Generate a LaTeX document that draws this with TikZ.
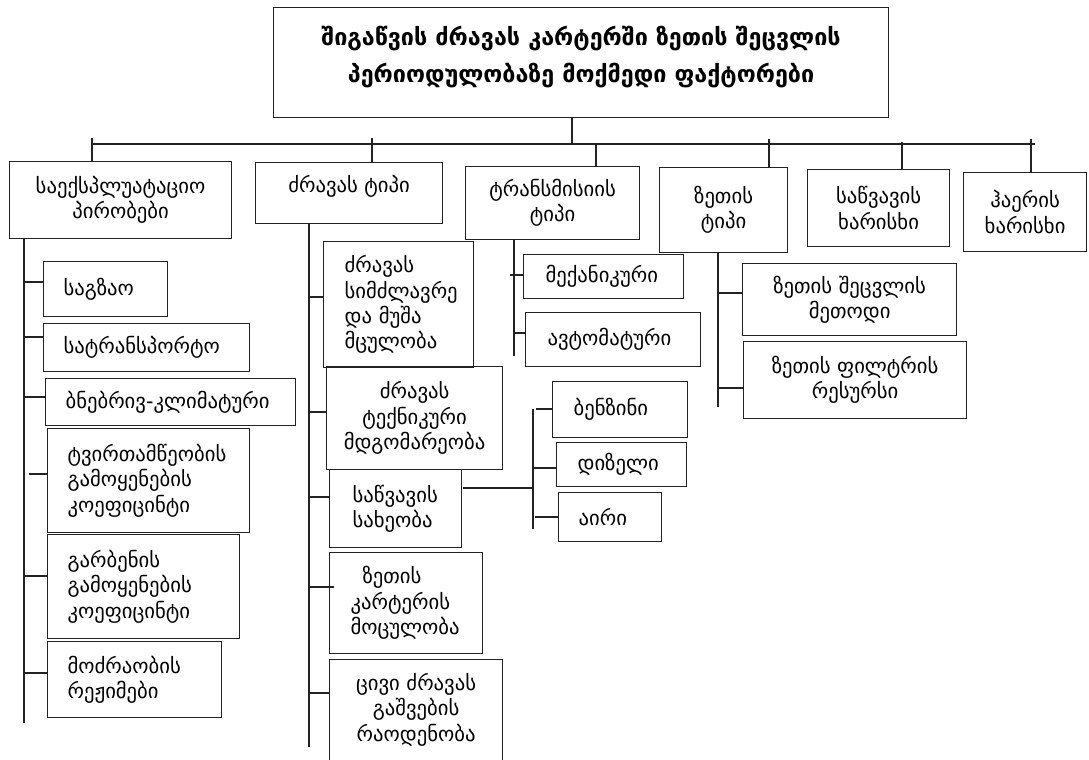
\documentclass[tikz,border=0pt]{standalone}
\usepackage{fontspec}
\setmainfont{DejaVu Sans}
\definecolor{lc}{RGB}{35,35,35}
\newcommand\gbody{\fontsize{15.5}{19}\selectfont}
\newcommand\gtitle{\bfseries\fontsize{17.5}{27.75}\selectfont}
\tikzset{
  box/.style={draw=lc, line width=0.9pt, inner xsep=0pt, inner ysep=0pt, anchor=north west, font=\gbody, text=black},
  cb/.code 2 args={\pgfmathsetmacro\mybw{#1*0.75}\pgfmathsetmacro\mybh{#2*0.75}%
    \edef\mytmp{\noexpand\pgfkeysalso{minimum width=\mybw pt,minimum height=\mybh pt,align=center}}\mytmp},
  lb/.code n args={3}{\pgfmathsetmacro\mybw{#1*0.75}\pgfmathsetmacro\mybh{#2*0.75}%
    \pgfmathsetmacro\mybt{(#1-2*#3)*0.75}\pgfmathsetmacro\mybp{#3*0.75}%
    \edef\mytmp{\noexpand\pgfkeysalso{minimum width=\mybw pt,minimum height=\mybh pt,text width=\mybt pt,inner xsep=\mybp pt,align=left}}\mytmp},
  txt/.style={inner sep=0pt, align=center, text=black},
  conn/.style={draw=lc, line width=0.9pt}
}
\begin{document}
\begin{tikzpicture}[x=0.75pt,y=-0.75pt]
\fill[white] (0,0) rectangle (1089,760);
\useasboundingbox (0,0) rectangle (1089,760);

% title
\node[box,cb={615}{110}] (title) at (273,7) {};
\node[txt,font=\gtitle] (titletxt) at ([yshift=4pt]title.center) {შიგაწვის ძრავას კარტერში ზეთის შეცვლის\\პერიოდულობაზე მოქმედი ფაქტორები};

% top level
\node[box,cb={222}{77}] (expl) at (9,161) {საექსპლუატაციო\\პირობები};
\node[box,cb={187}{61}] (eng) at (255,162) {};
\node[txt,font=\gbody] (engtxt) at ([yshift=5pt]eng.center) {ძრავას ტიპი};
\node[box,cb={174}{73}] (trans) at (465,166) {ტრანსმისიის\\ტიპი};
\node[box,cb={128}{85}] (zeta) at (659,167) {ზეთის\\ტიპი};
\node[box,cb={142}{77}] (saqv) at (807,169) {საწვავის\\ხარისხი};
\node[box,cb={123}{79}] (haer) at (963,172) {ჰაერის\\ხარისხი};

% left column
\node[box,lb={124}{55}{20}] (sagzao) at (43,261) {საგზაო};
\node[box,lb={206}{48}{20}] (satrans) at (43,323) {სატრანსპორტო};
\node[box,lb={250}{47}{20}] (bnebr) at (45,378) {ბნებრივ-კლიმატური};
\node[box,lb={202}{104}{20}] (tvirt) at (47,428) {ტვირთამწეობის\\გამოყენების\\კოეფიცინტი};
\node[box,lb={192}{104}{20}] (garb) at (47,534) {გარბენის\\გამოყენების\\კოეფიცინტი};
\node[box,lb={174}{76}{20}] (modzr) at (47,641) {მოძრაობის\\რეჟიმები};

% engine column
\node[box,lb={150}{126}{21}] (simdz) at (323,241) {ძრავას\\სიმძლავრე\\და მუშა\\მცულობა};
\node[box,cb={176}{103}] (teqn) at (326,366) {ძრავას\\ტექნიკური\\მდგომარეობა};
\node[box,lb={132}{78}{23}] (sawvsax) at (329,469) {საწვავის\\სახეობა};
\node[box,lb={153}{101}{21}] (kart) at (329,552) {\hspace*{9pt}ზეთის\\კარტერის\\მოცულობა};
\node[box,cb={173}{116}] (civi) at (329,659) {};
\node[txt,font=\gbody] (civitxt) at ([yshift=6pt]civi.center) {ცივი ძრავას\\გაშვების\\რაოდენობა};

% transmission column
\node[box,lb={160}{44}{22}] (meq) at (523,254) {მექანიკური};
\node[box,lb={175}{54}{22}] (avto) at (525,312) {ავტომატური};

% fuel
\node[box,lb={135}{56}{21}] (benz) at (552,381) {ბენზინი};
\node[box,lb={130}{44}{21}] (diz) at (556,442) {დიზელი};
\node[box,lb={103}{49}{20}] (airi) at (558,492) {აირი};

% oil column
\node[box,cb={214}{72}] (zmeth) at (742,263) {ზეთის შეცვლის\\მეთოდი};
\node[box,cb={223}{77}] (zfilt) at (743,341) {ზეთის ფილტრის\\რესურსი};

% bus
\coordinate (busL) at (92,144);
\coordinate (busR) at (1035,144);
\draw[conn] (busL) -- (busR);
\coordinate (tb) at (572,145);
\draw[conn] (tb |- title.south) -- (tb);
\coordinate (t1) at (92,138);
\coordinate (t2) at (372,138);
\coordinate (t3) at (596,144);
\coordinate (t4) at (769,139);
\coordinate (t5) at (902,142);
\coordinate (t6) at (1031,139);
\draw[conn] (t1) -- (t1 |- expl.north);
\draw[conn] (t2) -- (t2 |- eng.north);
\draw[conn] (t3) -- (t3 |- trans.north);
\draw[conn] (t4) -- (t4 |- zeta.north);
\draw[conn] (t5) -- (t5 |- saqv.north);
\draw[conn] (t6) -- (t6 |- haer.north);

% left column line
\coordinate (e1) at (24,723);
\draw[conn] (e1 |- expl.south) -- (e1);
\coordinate (a1) at (24,282);
\coordinate (a2) at (24,337);
\coordinate (a3) at (24,397);
\coordinate (a4) at (29,474);
\coordinate (a5) at (24,576);
\coordinate (a6) at (24,673);
\draw[conn] (a1) -- (a1 -| sagzao.west);
\draw[conn] (a2) -- (a2 -| satrans.west);
\draw[conn] (a3) -- (a3 -| bnebr.west);
\draw[conn] (a4) -- (a4 -| tvirt.west);
\draw[conn] (a5) -- (a5 -| garb.west);
\draw[conn] (a6) -- (a6 -| modzr.west);

% engine column line
\coordinate (e2) at (309,747);
\draw[conn] (e2 |- eng.south) -- (e2);
\coordinate (b1) at (309,297);
\coordinate (b2) at (309,412);
\coordinate (b3) at (309,497);
\coordinate (b4) at (309,587);
\coordinate (b5) at (309,693);
\draw[conn] (b1) -- (b1 -| simdz.west);
\draw[conn] (b2) -- (b2 -| teqn.west);
\draw[conn] (b3) -- (b3 -| sawvsax.west);
\draw[conn] (b4) -- ([xshift=4pt]b4 -| kart.west);
\draw[conn] (b5) -- (b5 -| civi.west);

% transmission line
\coordinate (e3) at (514,356);
\draw[conn] (e3 |- trans.south) -- (e3);
\coordinate (c1) at (510,275);
\coordinate (c2) at (514,333);
\draw[conn] (c1) -- (c1 -| meq.west);
\draw[conn] (c2) -- (c2 -| avto.west);

% fuel line
\coordinate (f1) at (533,409);
\coordinate (f2) at (533,529);
\draw[conn] (f1) -- (f2);
\coordinate (sx) at (463,488);
\draw[conn] (sx) -- (sx -| f1);
\coordinate (d1) at (536,409);
\coordinate (d2) at (533,468);
\coordinate (d3) at (535,517);
\draw[conn] (d1) -- (d1 -| benz.west);
\draw[conn] (d2) -- (d2 -| diz.west);
\draw[conn] (d3) -- (d3 -| airi.west);

% oil line
\coordinate (e4) at (718,407);
\draw[conn] (e4 |- zeta.south) -- (e4);
\coordinate (g1) at (718,293);
\coordinate (g2) at (718,388);
\draw[conn] (g1) -- (g1 -| zmeth.west);
\draw[conn] (g2) -- (g2 -| zfilt.west);
\end{tikzpicture}
\end{document}
